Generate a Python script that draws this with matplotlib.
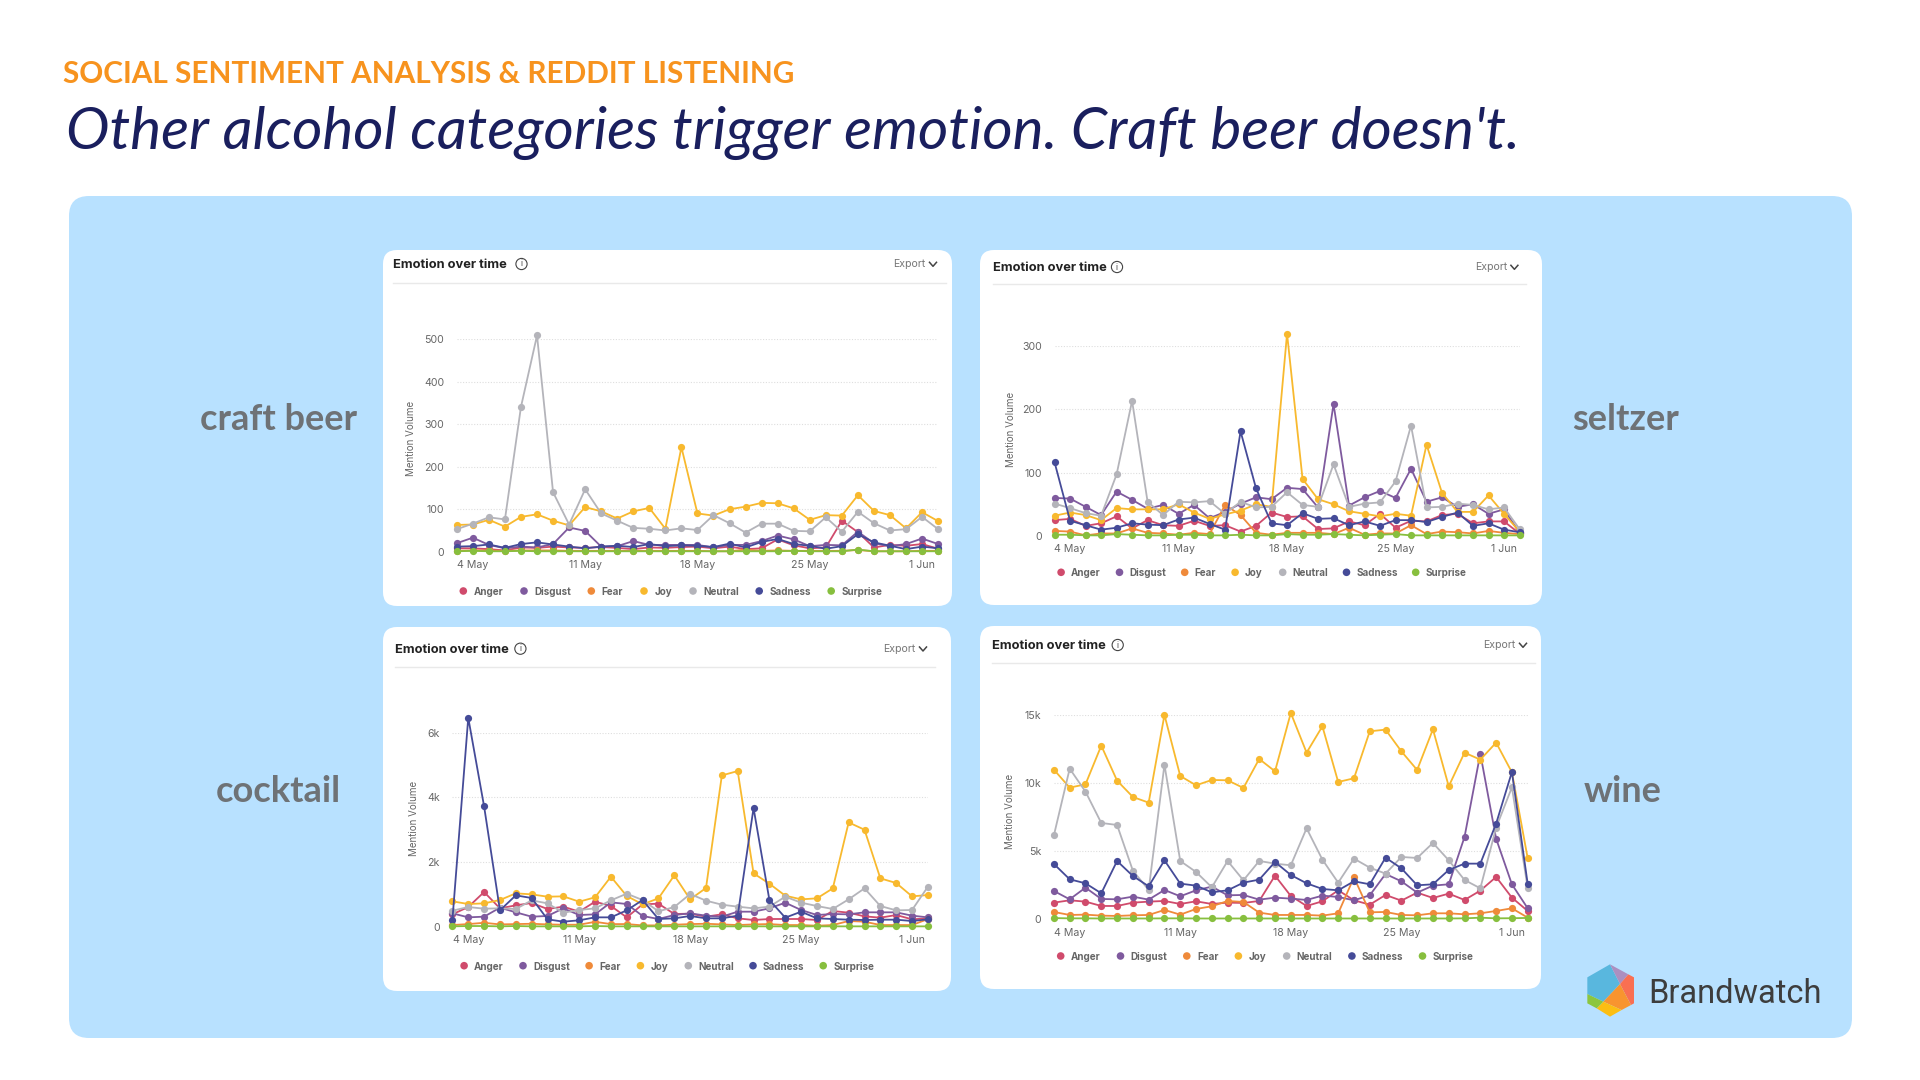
import matplotlib
matplotlib.use('Agg')
import matplotlib.pyplot as plt
from matplotlib.patches import FancyBboxPatch, Polygon, Circle

plt.rcParams['font.family'] = ['Inter', 'DejaVu Sans']

# one point per day, 3 May to 2 Jun
days = list(range(31))
tick_days = [1, 8, 15, 22, 29]
tick_labels = ['4 May', '11 May', '18 May', '25 May', '1 Jun']
emotions = ['Anger', 'Disgust', 'Fear', 'Joy', 'Neutral', 'Sadness', 'Surprise']

craft_anger = [8,8,6,3,10,9,12,10,9,11,9,6,10,9,11,12,8,12,6,8,29,15,8,10,73,46,10,16,14,18,7]
craft_disgust = [20,33,16,8,12,10,18,57,49,12,13,25,16,16,16,16,10,16,16,25,38,29,13,16,15,47,20,13,18,31,18]
craft_fear = [2,3,3,2,3,3,3,2,2,2,2,2,2,2,2,2,1,1,5,2,3,2,2,2,2,4,1,1,1,2,2]
craft_joy = [63,64,75,59,82,88,73,62,105,95,78,95,103,54,246,90,85,100,106,115,114,102,75,86,85,133,96,86,55,93,72]
craft_neutral = [53,66,81,76,341,509,140,64,147,90,73,56,54,50,55,51,86,67,45,66,66,49,48,81,47,94,67,50,53,82,53]
craft_sadness = [12,13,17,9,18,22,17,12,8,12,14,11,18,13,15,14,11,19,10,23,30,18,14,7,13,41,22,14,6,12,8]
craft_surprise = [1,2,1,1,2,1,1,1,1,1,1,1,1,1,1,1,1,1,1,1,1,2,1,1,1,5,1,1,1,1,1]

seltzer_anger = [25,27,16,20,31,12,25,17,16,24,16,17,7,16,37,30,31,11,12,23,17,35,13,24,23,33,35,20,23,23,4]
seltzer_disgust = [60,59,46,33,70,57,43,49,35,49,28,38,51,61,58,76,74,45,208,48,61,71,60,106,54,61,46,50,35,42,5]
seltzer_fear = [8,7,1,4,4,12,5,4,2,5,3,49,33,5,2,5,5,5,3,13,2,4,4,17,3,7,6,4,8,5,3]
seltzer_joy = [32,37,33,25,44,42,42,42,50,37,27,34,40,50,46,319,90,58,50,39,35,31,35,32,144,68,38,38,64,35,7]
seltzer_neutral = [51,44,36,32,97,213,54,33,54,53,55,35,54,45,46,69,49,46,113,46,51,53,86,174,45,46,51,49,42,45,11]
seltzer_sadness = [116,24,17,10,13,20,18,17,26,29,19,10,165,75,20,17,36,27,28,17,23,16,25,25,22,30,37,16,20,10,6]
seltzer_surprise = [2,2,1,1,3,2,1,1,2,2,1,1,2,1,1,3,2,2,3,2,1,2,3,1,1,1,1,1,1,1,1]

cocktail_anger = [391,617,1080,576,669,741,556,628,473,782,648,298,700,720,401,412,319,391,267,216,247,247,247,216,494,442,329,288,370,237,267]
cocktail_disgust = [422,298,319,597,453,319,340,576,370,391,761,710,340,247,370,422,350,319,473,473,576,751,525,370,401,391,453,453,453,350,298]
cocktail_fear = [60,90,130,80,90,100,80,70,70,160,90,90,50,50,70,90,100,80,60,80,90,60,60,40,60,185,165,60,60,60,245]
cocktail_joy = [792,710,730,833,1039,1008,936,946,782,916,1553,957,700,885,1595,854,1204,4681,4815,1656,1337,967,854,885,1193,3230,3004,1502,1358,946,988]
cocktail_neutral = [504,617,566,576,556,823,730,442,525,576,823,1029,833,484,617,1019,813,689,628,576,628,936,751,648,556,854,1193,648,514,525,1245]
cocktail_sadness = [216,6461,3724,514,977,895,237,165,206,298,298,514,833,247,267,340,267,267,350,3673,833,288,473,267,247,226,216,226,226,185,237]
cocktail_surprise = [20,30,30,20,30,20,20,20,20,30,20,20,20,20,20,20,20,20,20,20,20,20,20,20,20,20,20,20,20,20,20]

wine_anger = [1225,1397,1299,980,980,1225,1299,1348,1127,1323,1127,1225,1201,1348,3211,1716,980,1323,2132,1397,1078,1789,1372,1961,1569,1887,1422,2108,3113,1593,613]
wine_disgust = [2083,1470,2328,1495,1470,1667,1446,2157,1691,2132,2402,1765,1789,1446,1593,1520,1422,1740,1642,1397,1765,3333,2794,1961,2475,2574,6054,12181,5931,2574,809]
wine_fear = [539,319,343,270,245,294,319,686,343,760,956,1348,1275,490,319,319,319,270,441,3088,515,539,319,294,441,441,368,441,613,809,123]
wine_joy = [11005,9681,9926,12770,10196,8995,8578,15025,10539,9853,10245,10221,9657,11789,10882,15172,12255,14191,10098,10368,13824,13946,12353,10980,13971,9779,12255,11740,12990,10809,4485]
wine_neutral = [6176,11078,9387,7083,6936,3578,2157,11372,4289,3480,2353,4289,2868,4289,4093,3971,6691,4387,2696,4461,3799,3358,4583,4510,5613,4338,2892,2279,6740,9706,2304]
wine_sadness = [4069,2941,2647,1912,4289,3186,2426,4338,2623,2476,1985,2132,2696,2917,4216,3260,2647,2230,2132,2794,2574,4534,3750,2500,2574,3627,4093,4093,7034,10833,2598]
wine_surprise = [90,70,70,60,60,60,60,70,70,60,60,60,60,60,60,60,60,60,60,60,60,60,60,60,60,60,70,120,70,80,100]

craft_series = [craft_anger, craft_disgust, craft_fear, craft_joy, craft_neutral, craft_sadness, craft_surprise]
seltzer_series = [seltzer_anger, seltzer_disgust, seltzer_fear, seltzer_joy, seltzer_neutral, seltzer_sadness, seltzer_surprise]
cocktail_series = [cocktail_anger, cocktail_disgust, cocktail_fear, cocktail_joy, cocktail_neutral, cocktail_sadness, cocktail_surprise]
wine_series = [wine_anger, wine_disgust, wine_fear, wine_joy, wine_neutral, wine_sadness, wine_surprise]

craft_ticks, craft_ticklabels = [0, 100, 200, 300, 400, 500], ['0', '100', '200', '300', '400', '500']
seltzer_ticks, seltzer_ticklabels = [0, 100, 200, 300], ['0', '100', '200', '300']
cocktail_ticks, cocktail_ticklabels = [0, 2000, 4000, 6000], ['0', '2k', '4k', '6k']
wine_ticks, wine_ticklabels = [0, 5000, 10000, 15000], ['0', '5k', '10k', '15k']

colors = ['#D04B6C', '#7F5A9E', '#EF8A3A', '#F8B92E', '#B4B4BA', '#454B98', '#87BF3E']
W, H = 1920, 1080

fig = plt.figure(figsize=(19.2, 10.8), dpi=100, facecolor='white')
bg = fig.add_axes([0, 0, 1, 1])
bg.set_xlim(0, W)
bg.set_ylim(H, 0)
bg.axis('off')


def rounded(x0, y0, x1, y1, r, color, z):
    bg.add_patch(FancyBboxPatch((x0 + r, y0 + r), x1 - x0 - 2 * r, y1 - y0 - 2 * r,
                                boxstyle='round,pad=%f,rounding_size=%f' % (r, r),
                                fc=color, ec='none', zorder=z))


def panel(card, plot, series, ticks, ticklabels, head, info, export, chevron, rule, ylab, leg_y, leg_marks, leg_text):
    rounded(card[0], card[1], card[2], card[3], 14, 'white', 2)
    # plot = x of first day, x of last day, y of zero, y of top tick
    ax = fig.add_axes([plot[0] / W, 1 - plot[2] / H, (plot[1] - plot[0]) / W, (plot[2] - plot[3]) / H])
    ax.patch.set_alpha(0)
    for vals, c in zip(series, colors):
        ax.plot(days, vals, '-o', c=c, lw=1.3, ms=5.2, mew=0, clip_on=False, zorder=5)
    ax.set_xlim(0, 30)
    ax.set_ylim(0, ticks[-1])
    ax.set_xticks(tick_days)
    ax.set_xticklabels(tick_labels)
    ax.set_yticks(ticks)
    ax.set_yticklabels(ticklabels)
    ax.yaxis.grid(color='#dedede', lw=0.8, ls=(0, (1, 1.5)), zorder=-1)
    ax.tick_params(axis='both', length=0, labelsize=7.6, labelcolor='#666666')
    ax.tick_params(axis='x', pad=6)
    ax.tick_params(axis='y', pad=9)
    for s in ax.spines.values():
        s.set_visible(False)

    bg.text(head[0], head[1] + 0.8, 'Emotion over time', fontsize=9.3, fontweight='bold', color='#222222', va='center', zorder=3)
    bg.add_patch(Circle(info, 5.6, fc='none', ec='#444444', lw=0.8, zorder=3))
    bg.text(info[0], info[1], 'i', fontsize=6, color='#444444', ha='center', va='center', zorder=3)
    bg.text(export[0], export[1], 'Export', fontsize=7.6, color='#777777', va='center', zorder=3)
    bg.plot([chevron[0] - 3.5, chevron[0], chevron[0] + 3.5], [chevron[1] - 2, chevron[1] + 2, chevron[1] - 2],
            c='#444444', lw=1.1, zorder=3)
    bg.plot([rule[0], rule[1]], [rule[2], rule[2]], c='#e9e9e9', lw=1, zorder=3)
    bg.text(ylab[0] + 3, ylab[1], 'Mention Volume', fontsize=7.0, color='#666666', rotation=90, ha='center', va='center', zorder=3)
    for name, c, mx, tx in zip(emotions, colors, leg_marks, leg_text):
        bg.add_patch(Circle((mx, leg_y), 3.8, fc=c, ec='none', zorder=3))
        bg.text(tx, leg_y + 0.8, name, fontsize=7.1, fontweight='bold', color='#666666', va='center', zorder=3)


rounded(69, 196, 1852, 1038, 20, '#B8E1FF', 1)

panel((383, 250, 952, 606), (456.8, 938.1, 551.7, 339.3), craft_series, craft_ticks, craft_ticklabels,
      (393, 264), (521.5, 264), (893, 264.3), (933, 264.3), (393, 946, 283), (408, 438), 591,
      [463.3, 524, 591.3, 644, 693, 759.2, 831.2], [473.9, 534.2, 601.5, 654.2, 703.2, 769.4, 841.3])
panel((980, 250, 1542, 605), (1054.6, 1519.5, 536, 345.7), seltzer_series, seltzer_ticks, seltzer_ticklabels,
      (993, 267), (1117, 267), (1475.5, 267.3), (1514.4, 267.3), (993, 1526, 284.3), (1008, 429), 572.3,
      [1061.1, 1119.5, 1184.7, 1235.1, 1282.7, 1346.5, 1415.7], [1071.2, 1129.2, 1194.4, 1244.9, 1292.4, 1356.2, 1425.8])
panel((980, 626, 1541, 989), (1053.9, 1527.7, 919.3, 715.3), wine_series, wine_ticks, wine_ticklabels,
      (991.5, 645), (1117.7, 645), (1483, 645.3), (1523, 645.3), (991.5, 1535, 663), (1006.7, 811), 956,
      [1060.7, 1120.5, 1186.8, 1238.4, 1286.7, 1351.9, 1422.5], [1071.2, 1130.6, 1196.9, 1248.8, 1296.8, 1361.6, 1432.6])
panel((383, 627, 951, 991), (452.4, 927.9, 927, 732.7), cocktail_series, cocktail_ticks, cocktail_ticklabels,
      (395, 649), (520.4, 648.7), (883.5, 649), (923, 649), (395, 935, 667.3), (410.6, 818), 965.7,
      [464.1, 523, 589.1, 640.4, 688.3, 753, 823.2], [473.9, 533.1, 598.9, 650.2, 698.2, 762.9, 833.4])

# headline
bg.text(63, 83, 'SOCIAL SENTIMENT ANALYSIS & REDDIT LISTENING', family='Lato', fontsize=21.4, fontweight='bold', color='#F7931E', va='baseline')
bg.text(66, 149, "Other alcohol categories trigger emotion. Craft beer doesn't.", family='Lato', style='italic', fontsize=42, color='#1A1F5E', va='baseline')

# side labels
for label, x, y in [('craft beer', 278, 419), ('seltzer', 1626, 419), ('cocktail', 278, 791), ('wine', 1623, 791)]:
    bg.text(x, y, label, family='Lato', fontsize=26, fontweight='bold', color='#6E7276', ha='center', va='center', zorder=3)

# logo
logo_parts = [
    ('#59B7DE', [(150, 73), (82, 112), (82, 162), (130, 185), (180, 132)]),
    ('#AC8FC0', [(150, 73), (205, 103), (180, 132)]),
    ('#F96F52', [(205, 103), (222, 112), (222, 190), (213, 195), (180, 132)]),
    ('#F8942F', [(180, 132), (213, 195), (185, 210), (130, 185)]),
    ('#FCBE12', [(130, 185), (185, 210), (150, 230), (110, 205)]),
    ('#8CC63F', [(82, 162), (130, 185), (110, 205), (82, 190)]),
]
for c, pts in logo_parts:
    bg.add_patch(Polygon([(1560 + px / 3, 940 + py / 3) for px, py in pts], fc=c, ec='none', zorder=3))
bg.text(1648, 1003, 'Brandwatch', family='Roboto', fontsize=23.5, color='#3D3D3D', va='baseline', zorder=3)

fig.savefig('out.png', dpi=100)
